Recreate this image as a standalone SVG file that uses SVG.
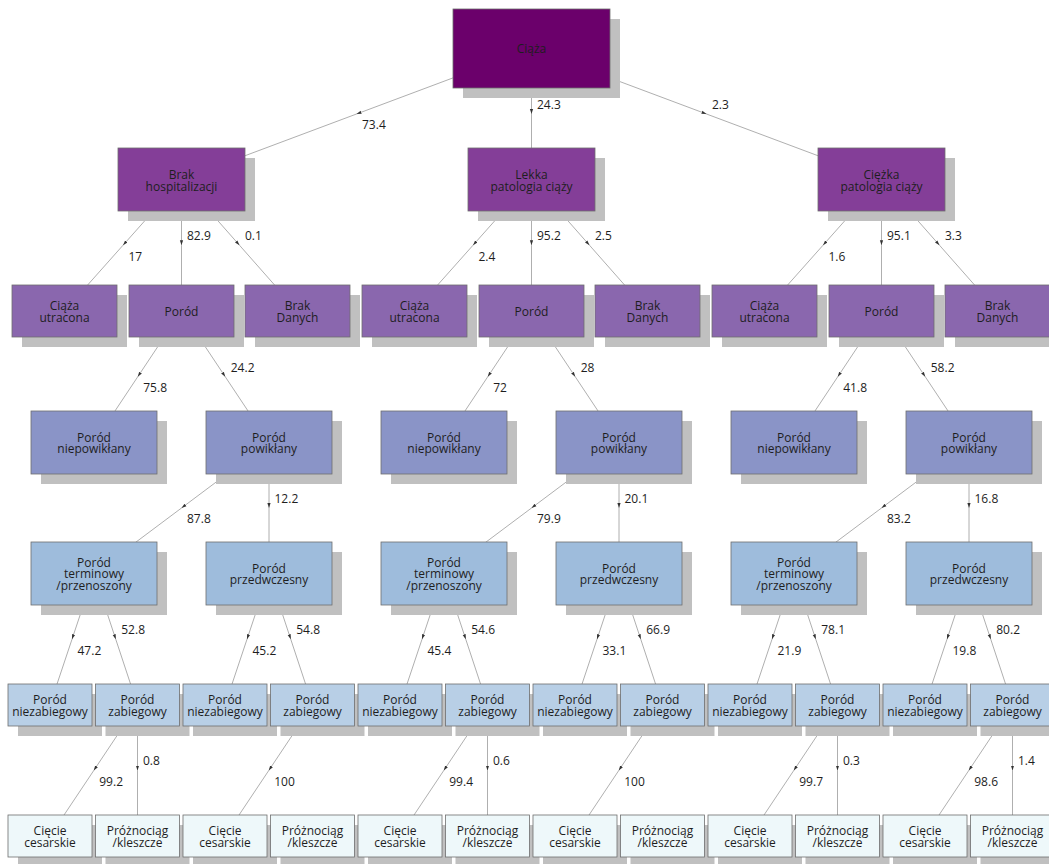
<svg xmlns="http://www.w3.org/2000/svg" width="1049" height="864" viewBox="0 0 1049 864">
<defs>
<marker id="ah" markerWidth="6" markerHeight="6" viewBox="0 0 6 6" refX="5" refY="3" orient="auto" markerUnits="userSpaceOnUse"><path d="M0,1.4 L5,3 L0,4.6 z" fill="#333"/></marker>
<style>
.sh{fill:#c0c0c0}
.b{stroke:#6e6e6e;stroke-width:0.8}
.n0{fill:#6b006b}.n1{fill:#843e98}.n2{fill:#8a67ae}.n3{fill:#8a94c7}.n4{fill:#9ebcdc}.n5{fill:#b8cfe6}.n6{fill:#eef8fa}
text{font-family:"Open Sans","Noto Sans","DejaVu Sans",sans-serif;font-size:12px;fill:#1e1e1e}
.t{text-anchor:middle}
.e{fill:none;stroke:#9a9a9a;stroke-width:0.8;marker-mid:url(#ah)}
</style>
</defs>
<rect width="1049" height="864" fill="#ffffff"/>
<g id="connectors">
<path class="e" d="M531.5 48.5 L356.5 114 L181.5 179.5"/>
<path class="e" d="M531.5 48.5 L531.5 114 L531.5 179.5"/>
<path class="e" d="M531.5 48.5 L706.5 114 L881.5 179.5"/>
<path class="e" d="M181.5 179.5 L123 245.25 L64.5 311"/>
<path class="e" d="M181.5 179.5 L181.5 245.25 L181.5 311"/>
<path class="e" d="M181.5 179.5 L239.5 245.25 L297.5 311"/>
<path class="e" d="M531.5 179.5 L473 245.25 L414.5 311"/>
<path class="e" d="M531.5 179.5 L531.5 245.25 L531.5 311"/>
<path class="e" d="M531.5 179.5 L589.5 245.25 L647.5 311"/>
<path class="e" d="M881.5 179.5 L823 245.25 L764.5 311"/>
<path class="e" d="M881.5 179.5 L881.5 245.25 L881.5 311"/>
<path class="e" d="M881.5 179.5 L939.5 245.25 L997.5 311"/>
<path class="e" d="M181.5 311 L137.75 376.75 L94 442.5"/>
<path class="e" d="M181.5 311 L225.25 376.75 L269 442.5"/>
<path class="e" d="M531.5 311 L487.75 376.75 L444 442.5"/>
<path class="e" d="M531.5 311 L575.25 376.75 L619 442.5"/>
<path class="e" d="M881.5 311 L837.75 376.75 L794 442.5"/>
<path class="e" d="M881.5 311 L925.25 376.75 L969 442.5"/>
<path class="e" d="M269 442.5 L181.5 508 L94 573.5"/>
<path class="e" d="M269 442.5 L269 508 L269 573.5"/>
<path class="e" d="M619 442.5 L531.5 508 L444 573.5"/>
<path class="e" d="M619 442.5 L619 508 L619 573.5"/>
<path class="e" d="M969 442.5 L881.5 508 L794 573.5"/>
<path class="e" d="M969 442.5 L969 508 L969 573.5"/>
<path class="e" d="M94 573.5 L72 639.25 L50 705"/>
<path class="e" d="M94 573.5 L115.75 639.25 L137.5 705"/>
<path class="e" d="M269 573.5 L247 639.25 L225 705"/>
<path class="e" d="M269 573.5 L290.75 639.25 L312.5 705"/>
<path class="e" d="M444 573.5 L422 639.25 L400 705"/>
<path class="e" d="M444 573.5 L465.75 639.25 L487.5 705"/>
<path class="e" d="M619 573.5 L597 639.25 L575 705"/>
<path class="e" d="M619 573.5 L640.75 639.25 L662.5 705"/>
<path class="e" d="M794 573.5 L772 639.25 L750 705"/>
<path class="e" d="M794 573.5 L815.75 639.25 L837.5 705"/>
<path class="e" d="M969 573.5 L947 639.25 L925 705"/>
<path class="e" d="M969 573.5 L990.75 639.25 L1012.5 705"/>
<path class="e" d="M137.5 705 L93.75 770.5 L50 836"/>
<path class="e" d="M137.5 705 L137.5 770.5 L137.5 836"/>
<path class="e" d="M312.5 705 L268.75 770.5 L225 836"/>
<path class="e" d="M487.5 705 L443.75 770.5 L400 836"/>
<path class="e" d="M487.5 705 L487.5 770.5 L487.5 836"/>
<path class="e" d="M662.5 705 L618.75 770.5 L575 836"/>
<path class="e" d="M837.5 705 L793.75 770.5 L750 836"/>
<path class="e" d="M837.5 705 L837.5 770.5 L837.5 836"/>
<path class="e" d="M1012.5 705 L968.75 770.5 L925 836"/>
<path class="e" d="M1012.5 705 L1012.5 770.5 L1012.5 836"/>
</g>
<g id="edge-labels">
<text x="362" y="129.3">73.4</text>
<text x="537" y="108.8">24.3</text>
<text x="712" y="108.8">2.3</text>
<text x="128.5" y="260.5">17</text>
<text x="187" y="240">82.9</text>
<text x="245" y="240">0.1</text>
<text x="478.5" y="260.5">2.4</text>
<text x="537" y="240">95.2</text>
<text x="595" y="240">2.5</text>
<text x="828.5" y="260.5">1.6</text>
<text x="887" y="240">95.1</text>
<text x="945" y="240">3.3</text>
<text x="143.25" y="392">75.8</text>
<text x="230.75" y="371.5">24.2</text>
<text x="493.25" y="392">72</text>
<text x="580.75" y="371.5">28</text>
<text x="843.25" y="392">41.8</text>
<text x="930.75" y="371.5">58.2</text>
<text x="187" y="523.3">87.8</text>
<text x="274.5" y="502.8">12.2</text>
<text x="537" y="523.3">79.9</text>
<text x="624.5" y="502.8">20.1</text>
<text x="887" y="523.3">83.2</text>
<text x="974.5" y="502.8">16.8</text>
<text x="77.5" y="654.5">47.2</text>
<text x="121.25" y="634">52.8</text>
<text x="252.5" y="654.5">45.2</text>
<text x="296.25" y="634">54.8</text>
<text x="427.5" y="654.5">45.4</text>
<text x="471.25" y="634">54.6</text>
<text x="602.5" y="654.5">33.1</text>
<text x="646.25" y="634">66.9</text>
<text x="777.5" y="654.5">21.9</text>
<text x="821.25" y="634">78.1</text>
<text x="952.5" y="654.5">19.8</text>
<text x="996.25" y="634">80.2</text>
<text x="99.25" y="785.8">99.2</text>
<text x="143" y="765.3">0.8</text>
<text x="274.25" y="785.8">100</text>
<text x="449.25" y="785.8">99.4</text>
<text x="493" y="765.3">0.6</text>
<text x="624.25" y="785.8">100</text>
<text x="799.25" y="785.8">99.7</text>
<text x="843" y="765.3">0.3</text>
<text x="974.25" y="785.8">98.6</text>
<text x="1018" y="765.3">1.4</text>
</g>
<g id="n-ciaza"><rect class="sh" x="463" y="19" width="157" height="79"/><rect class="n0 b" x="453" y="9" width="157" height="79"/><text class="t" x="531.5" y="53.2">Ciąża</text></g>
<g id="c0-l1"><rect class="sh" x="128" y="158" width="127" height="63"/><rect class="n1 b" x="118" y="148" width="127" height="63"/><text class="t" x="181.5" y="179"><tspan x="181.5">Brak</tspan><tspan x="181.5" dy="11.5">hospitalizacji</tspan></text></g>
<g id="c1-l1"><rect class="sh" x="478" y="158" width="127" height="63"/><rect class="n1 b" x="468" y="148" width="127" height="63"/><text class="t" x="531.5" y="179"><tspan x="531.5">Lekka</tspan><tspan x="531.5" dy="11.5">patologia ciąży</tspan></text></g>
<g id="c2-l1"><rect class="sh" x="828" y="158" width="127" height="63"/><rect class="n1 b" x="818" y="148" width="127" height="63"/><text class="t" x="881.5" y="179"><tspan x="881.5">Ciężka</tspan><tspan x="881.5" dy="11.5">patologia ciąży</tspan></text></g>
<g id="c0-utr"><rect class="sh" x="22" y="295" width="105" height="52"/><rect class="n2 b" x="12" y="285" width="105" height="52"/><text class="t" y="310"><tspan x="64.5">Ciąża</tspan><tspan x="64.5" dy="11.5">utracona</tspan></text></g>
<g id="c0-por"><rect class="sh" x="139" y="295" width="105" height="52"/><rect class="n2 b" x="129" y="285" width="105" height="52"/><text class="t" x="181.5" y="315.5">Poród</text></g>
<g id="c0-bd"><rect class="sh" x="255" y="295" width="105" height="52"/><rect class="n2 b" x="245" y="285" width="105" height="52"/><text class="t" y="310"><tspan x="297.5">Brak</tspan><tspan x="297.5" dy="11.5">Danych</tspan></text></g>
<g id="c1-utr"><rect class="sh" x="372" y="295" width="105" height="52"/><rect class="n2 b" x="362" y="285" width="105" height="52"/><text class="t" y="310"><tspan x="414.5">Ciąża</tspan><tspan x="414.5" dy="11.5">utracona</tspan></text></g>
<g id="c1-por"><rect class="sh" x="489" y="295" width="105" height="52"/><rect class="n2 b" x="479" y="285" width="105" height="52"/><text class="t" x="531.5" y="315.5">Poród</text></g>
<g id="c1-bd"><rect class="sh" x="605" y="295" width="105" height="52"/><rect class="n2 b" x="595" y="285" width="105" height="52"/><text class="t" y="310"><tspan x="647.5">Brak</tspan><tspan x="647.5" dy="11.5">Danych</tspan></text></g>
<g id="c2-utr"><rect class="sh" x="722" y="295" width="105" height="52"/><rect class="n2 b" x="712" y="285" width="105" height="52"/><text class="t" y="310"><tspan x="764.5">Ciąża</tspan><tspan x="764.5" dy="11.5">utracona</tspan></text></g>
<g id="c2-por"><rect class="sh" x="839" y="295" width="105" height="52"/><rect class="n2 b" x="829" y="285" width="105" height="52"/><text class="t" x="881.5" y="315.5">Poród</text></g>
<g id="c2-bd"><rect class="sh" x="955" y="295" width="105" height="52"/><rect class="n2 b" x="945" y="285" width="105" height="52"/><text class="t" y="310"><tspan x="997.5">Brak</tspan><tspan x="997.5" dy="11.5">Danych</tspan></text></g>
<g id="c0-niep"><rect class="sh" x="41" y="421" width="126" height="63"/><rect class="n3 b" x="31" y="411" width="126" height="63"/><text class="t" y="441.7"><tspan x="94">Poród</tspan><tspan x="94" dy="11.5">niepowikłany</tspan></text></g>
<g id="c0-pow"><rect class="sh" x="216" y="421" width="126" height="63"/><rect class="n3 b" x="206" y="411" width="126" height="63"/><text class="t" y="441.7"><tspan x="269">Poród</tspan><tspan x="269" dy="11.5">powikłany</tspan></text></g>
<g id="c1-niep"><rect class="sh" x="391" y="421" width="126" height="63"/><rect class="n3 b" x="381" y="411" width="126" height="63"/><text class="t" y="441.7"><tspan x="444">Poród</tspan><tspan x="444" dy="11.5">niepowikłany</tspan></text></g>
<g id="c1-pow"><rect class="sh" x="566" y="421" width="126" height="63"/><rect class="n3 b" x="556" y="411" width="126" height="63"/><text class="t" y="441.7"><tspan x="619">Poród</tspan><tspan x="619" dy="11.5">powikłany</tspan></text></g>
<g id="c2-niep"><rect class="sh" x="741" y="421" width="126" height="63"/><rect class="n3 b" x="731" y="411" width="126" height="63"/><text class="t" y="441.7"><tspan x="794">Poród</tspan><tspan x="794" dy="11.5">niepowikłany</tspan></text></g>
<g id="c2-pow"><rect class="sh" x="916" y="421" width="126" height="63"/><rect class="n3 b" x="906" y="411" width="126" height="63"/><text class="t" y="441.7"><tspan x="969">Poród</tspan><tspan x="969" dy="11.5">powikłany</tspan></text></g>
<g id="c0-term"><rect class="sh" x="41" y="552" width="126" height="63"/><rect class="n4 b" x="31" y="542" width="126" height="63"/><text class="t" y="566.7"><tspan x="94">Poród</tspan><tspan x="94" dy="11.5">terminowy</tspan><tspan x="94" dy="11.5">/przenoszony</tspan></text></g>
<g id="c0-prz"><rect class="sh" x="216" y="552" width="126" height="63"/><rect class="n4 b" x="206" y="542" width="126" height="63"/><text class="t" y="572.5"><tspan x="269">Poród</tspan><tspan x="269" dy="11.5">przedwczesny</tspan></text></g>
<g id="c1-term"><rect class="sh" x="391" y="552" width="126" height="63"/><rect class="n4 b" x="381" y="542" width="126" height="63"/><text class="t" y="566.7"><tspan x="444">Poród</tspan><tspan x="444" dy="11.5">terminowy</tspan><tspan x="444" dy="11.5">/przenoszony</tspan></text></g>
<g id="c1-prz"><rect class="sh" x="566" y="552" width="126" height="63"/><rect class="n4 b" x="556" y="542" width="126" height="63"/><text class="t" y="572.5"><tspan x="619">Poród</tspan><tspan x="619" dy="11.5">przedwczesny</tspan></text></g>
<g id="c2-term"><rect class="sh" x="741" y="552" width="126" height="63"/><rect class="n4 b" x="731" y="542" width="126" height="63"/><text class="t" y="566.7"><tspan x="794">Poród</tspan><tspan x="794" dy="11.5">terminowy</tspan><tspan x="794" dy="11.5">/przenoszony</tspan></text></g>
<g id="c2-prz"><rect class="sh" x="916" y="552" width="126" height="63"/><rect class="n4 b" x="906" y="542" width="126" height="63"/><text class="t" y="572.5"><tspan x="969">Poród</tspan><tspan x="969" dy="11.5">przedwczesny</tspan></text></g>
<g id="c0-nz1"><rect class="sh" x="18" y="694" width="84" height="42"/><rect class="n5 b" x="8" y="684" width="84" height="42"/><text class="t" y="704"><tspan x="50">Poród</tspan><tspan x="50" dy="11.5">niezabiegowy</tspan></text></g>
<g id="c0-z1"><rect class="sh" x="105.5" y="694" width="84" height="42"/><rect class="n5 b" x="95.5" y="684" width="84" height="42"/><text class="t" y="704"><tspan x="137.5">Poród</tspan><tspan x="137.5" dy="11.5">zabiegowy</tspan></text></g>
<g id="c0-nz2"><rect class="sh" x="193" y="694" width="84" height="42"/><rect class="n5 b" x="183" y="684" width="84" height="42"/><text class="t" y="704"><tspan x="225">Poród</tspan><tspan x="225" dy="11.5">niezabiegowy</tspan></text></g>
<g id="c0-z2"><rect class="sh" x="280.5" y="694" width="84" height="42"/><rect class="n5 b" x="270.5" y="684" width="84" height="42"/><text class="t" y="704"><tspan x="312.5">Poród</tspan><tspan x="312.5" dy="11.5">zabiegowy</tspan></text></g>
<g id="c1-nz1"><rect class="sh" x="368" y="694" width="84" height="42"/><rect class="n5 b" x="358" y="684" width="84" height="42"/><text class="t" y="704"><tspan x="400">Poród</tspan><tspan x="400" dy="11.5">niezabiegowy</tspan></text></g>
<g id="c1-z1"><rect class="sh" x="455.5" y="694" width="84" height="42"/><rect class="n5 b" x="445.5" y="684" width="84" height="42"/><text class="t" y="704"><tspan x="487.5">Poród</tspan><tspan x="487.5" dy="11.5">zabiegowy</tspan></text></g>
<g id="c1-nz2"><rect class="sh" x="543" y="694" width="84" height="42"/><rect class="n5 b" x="533" y="684" width="84" height="42"/><text class="t" y="704"><tspan x="575">Poród</tspan><tspan x="575" dy="11.5">niezabiegowy</tspan></text></g>
<g id="c1-z2"><rect class="sh" x="630.5" y="694" width="84" height="42"/><rect class="n5 b" x="620.5" y="684" width="84" height="42"/><text class="t" y="704"><tspan x="662.5">Poród</tspan><tspan x="662.5" dy="11.5">zabiegowy</tspan></text></g>
<g id="c2-nz1"><rect class="sh" x="718" y="694" width="84" height="42"/><rect class="n5 b" x="708" y="684" width="84" height="42"/><text class="t" y="704"><tspan x="750">Poród</tspan><tspan x="750" dy="11.5">niezabiegowy</tspan></text></g>
<g id="c2-z1"><rect class="sh" x="805.5" y="694" width="84" height="42"/><rect class="n5 b" x="795.5" y="684" width="84" height="42"/><text class="t" y="704"><tspan x="837.5">Poród</tspan><tspan x="837.5" dy="11.5">zabiegowy</tspan></text></g>
<g id="c2-nz2"><rect class="sh" x="893" y="694" width="84" height="42"/><rect class="n5 b" x="883" y="684" width="84" height="42"/><text class="t" y="704"><tspan x="925">Poród</tspan><tspan x="925" dy="11.5">niezabiegowy</tspan></text></g>
<g id="c2-z2"><rect class="sh" x="980.5" y="694" width="84" height="42"/><rect class="n5 b" x="970.5" y="684" width="84" height="42"/><text class="t" y="704"><tspan x="1012.5">Poród</tspan><tspan x="1012.5" dy="11.5">zabiegowy</tspan></text></g>
<g id="c0-cc1"><rect class="sh" x="18" y="825" width="84" height="42"/><rect class="n6 b" x="8" y="815" width="84" height="42"/><text class="t" y="835"><tspan x="50">Cięcie</tspan><tspan x="50" dy="11.5">cesarskie</tspan></text></g>
<g id="c0-pk1"><rect class="sh" x="105.5" y="825" width="84" height="42"/><rect class="n6 b" x="95.5" y="815" width="84" height="42"/><text class="t" y="835"><tspan x="137.5">Próżnociąg</tspan><tspan x="137.5" dy="11.5">/kleszcze</tspan></text></g>
<g id="c0-cc2"><rect class="sh" x="193" y="825" width="84" height="42"/><rect class="n6 b" x="183" y="815" width="84" height="42"/><text class="t" y="835"><tspan x="225">Cięcie</tspan><tspan x="225" dy="11.5">cesarskie</tspan></text></g>
<g id="c0-pk2"><rect class="sh" x="280.5" y="825" width="84" height="42"/><rect class="n6 b" x="270.5" y="815" width="84" height="42"/><text class="t" y="835"><tspan x="312.5">Próżnociąg</tspan><tspan x="312.5" dy="11.5">/kleszcze</tspan></text></g>
<g id="c1-cc1"><rect class="sh" x="368" y="825" width="84" height="42"/><rect class="n6 b" x="358" y="815" width="84" height="42"/><text class="t" y="835"><tspan x="400">Cięcie</tspan><tspan x="400" dy="11.5">cesarskie</tspan></text></g>
<g id="c1-pk1"><rect class="sh" x="455.5" y="825" width="84" height="42"/><rect class="n6 b" x="445.5" y="815" width="84" height="42"/><text class="t" y="835"><tspan x="487.5">Próżnociąg</tspan><tspan x="487.5" dy="11.5">/kleszcze</tspan></text></g>
<g id="c1-cc2"><rect class="sh" x="543" y="825" width="84" height="42"/><rect class="n6 b" x="533" y="815" width="84" height="42"/><text class="t" y="835"><tspan x="575">Cięcie</tspan><tspan x="575" dy="11.5">cesarskie</tspan></text></g>
<g id="c1-pk2"><rect class="sh" x="630.5" y="825" width="84" height="42"/><rect class="n6 b" x="620.5" y="815" width="84" height="42"/><text class="t" y="835"><tspan x="662.5">Próżnociąg</tspan><tspan x="662.5" dy="11.5">/kleszcze</tspan></text></g>
<g id="c2-cc1"><rect class="sh" x="718" y="825" width="84" height="42"/><rect class="n6 b" x="708" y="815" width="84" height="42"/><text class="t" y="835"><tspan x="750">Cięcie</tspan><tspan x="750" dy="11.5">cesarskie</tspan></text></g>
<g id="c2-pk1"><rect class="sh" x="805.5" y="825" width="84" height="42"/><rect class="n6 b" x="795.5" y="815" width="84" height="42"/><text class="t" y="835"><tspan x="837.5">Próżnociąg</tspan><tspan x="837.5" dy="11.5">/kleszcze</tspan></text></g>
<g id="c2-cc2"><rect class="sh" x="893" y="825" width="84" height="42"/><rect class="n6 b" x="883" y="815" width="84" height="42"/><text class="t" y="835"><tspan x="925">Cięcie</tspan><tspan x="925" dy="11.5">cesarskie</tspan></text></g>
<g id="c2-pk2"><rect class="sh" x="980.5" y="825" width="84" height="42"/><rect class="n6 b" x="970.5" y="815" width="84" height="42"/><text class="t" y="835"><tspan x="1012.5">Próżnociąg</tspan><tspan x="1012.5" dy="11.5">/kleszcze</tspan></text></g>
</svg>
